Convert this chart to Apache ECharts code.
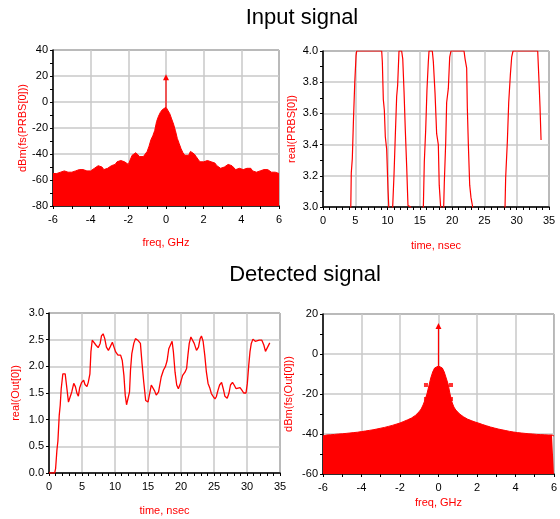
<!DOCTYPE html>
<html>
<head>
<meta charset="utf-8">
<script src="https://cdn.jsdelivr.net/npm/echarts@6/dist/echarts.min.js"></script>
<style>
  html, body { margin: 0; padding: 0; background: #fff; }
  #chart { width: 560px; height: 519px; }
</style>
</head>
<body>
<div id="chart"></div>
<script>
// frequency grid for both spectra, -6..6 GHz in 0.1 GHz steps
const freqGHz = []
for (let i = 0; i <= 120; i++) freqGHz.push(+(-6 + i * 0.1).toFixed(1))

// dBm(fs(PRBS[0])) envelope
const prbsSpec = [
  -55, -56, -55, -56, -54, -53, -53, -54, -54, -55,
  -54, -54, -53, -52, -52, -51, -52, -52, -53, -53,
  -53, -52, -51, -50, -49, -50, -50, -52, -52, -51,
  -51, -49, -48, -48, -46, -45, -45, -45, -46, -47,
  -48, -47, -41, -40, -39, -40, -42, -43, -42, -42,
  -38, -34, -29, -26, -22, -15, -11, -8, -6, -5,
  -4,
  -5, -9, -13, -17, -22, -28, -32, -36, -39, -41,
  -42, -41, -38, -38, -40, -42, -44, -46, -47, -46,
  -46, -45, -46, -46, -46, -47, -49, -50, -51, -51,
  -50, -49, -48, -48, -49, -50, -52, -52, -51, -52,
  -52, -51, -51, -50, -51, -53, -54, -54, -54, -53,
  -53, -52, -52, -52, -53, -54, -55, -54, -55, -55
]
const prbsSpike = [[0, -4], [0, 19]]

// dBm(fs(Out[0])) envelope
const outSpec = [
  -41, -40.5, -40.5, -40.5, -40.4, -40.3, -40.2, -40.1, -40, -40, -39.9,
  -39.8, -39.7, -39.6, -39.5, -39.4, -39.3, -39.2, -39.1, -39, -38.8,
  -38.7, -38.5, -38.4, -38.2, -38.1, -37.9, -37.7, -37.5, -37.3, -37.1,
  -36.9, -36.7, -36.4, -36.2, -36, -35.7, -35.4, -35.1, -34.8, -34.5,
  -34.1, -33.7, -33.3, -32.9, -32.5, -32, -31.4, -30.7, -29.8, -28.8,
  -27.5, -25.5, -23, -20, -16, -12, -9, -7, -6,
  -6,
  -6, -7, -9, -12, -15, -20, -24, -26.5, -28,
  -29, -30, -30.8, -31.4, -32, -32.5, -33, -33.3, -33.6, -34,
  -34.3, -34.6, -35, -35.3, -35.6, -35.9, -36.2, -36.5, -36.8, -37,
  -37.3, -37.5, -37.7, -37.9, -38.1, -38.3, -38.5, -38.7, -38.9, -39,
  -39.2, -39.3, -39.4, -39.5, -39.6, -39.7, -39.8, -39.9, -40, -40,
  -40.1, -40.2, -40.2, -40.3, -40.3, -40.4, -40.4, -40.5, -40.5, -40.5, -41
]
const outSpike = [[0, -6], [0, 14]]
const outSideLobes = [[-0.65, -15.5], [-0.65, -22.5], [0.65, -15.5], [0.65, -22.5]]

// real(PRBS[0]) vs time (ns); values below 3.0 run off the plot
const prbsT = [
  4.2, 4.38, 4.54, 4.72, 4.92, 5.12, 5.22,
  9.09, 9.19, 9.34, 9.5, 9.65, 9.86, 10.07, 10.3,
  10.6, 10.79, 11.0, 11.2, 11.41, 11.56, 11.77,
  12.18, 12.35, 12.55, 12.75, 12.96, 13.16, 13.58, 13.8,
  15.3, 15.54, 15.69, 15.9, 16.1, 16.31, 16.42,
  16.93, 17.09, 17.35, 17.6, 17.86, 18.0, 18.22, 18.4,
  18.55, 18.69, 18.79, 19.0, 19.15, 19.41, 19.62, 19.82,
  21.84, 22.0, 22.25, 22.35, 22.51, 22.72, 22.92, 23.18, 23.4,
  28.0, 28.19, 28.29, 28.55, 28.76, 29.02, 29.22, 29.43,
  33.25, 33.46, 33.61, 33.77
]
const prbsV = [
  2.7, 3.22, 3.31, 3.56, 3.80, 3.97, 4.0,
  4.0, 3.93, 3.69, 3.62, 3.45, 3.37, 3.11, 2.9,
  2.75, 3.0, 3.21, 3.46, 3.71, 3.78, 4.0,
  4.0, 3.95, 3.74, 3.49, 3.26, 3.01, 3.0, 2.8,
  2.8, 3.0, 3.29, 3.49, 3.75, 3.93, 4.0,
  4.0, 3.93, 3.73, 3.47, 3.40, 3.14, 3.0, 2.85,
  2.85, 3.0, 3.16, 3.41, 3.67, 3.76, 3.96, 4.0,
  4.0, 3.95, 3.89, 3.64, 3.40, 3.14, 3.06, 3.0, 2.8,
  2.8, 3.0, 3.19, 3.42, 3.67, 3.85, 3.96, 4.0,
  4.0, 3.80, 3.64, 3.43
]

// real(Out[0]) vs time (ns)
const outT = [
  0, 0.86, 1.0, 1.2, 1.35, 1.55, 1.7, 1.85, 2.1, 2.45, 2.65, 2.95, 3.25, 3.45, 3.75,
  4.0, 4.25, 4.45, 4.65, 4.95, 5.25, 5.45, 5.75, 5.95, 6.2, 6.35, 6.55, 6.85, 7.1,
  7.45, 7.75, 7.95, 8.2, 8.45, 8.7, 9.0, 9.25, 9.6, 9.85, 10.1, 10.45, 10.85, 11.1,
  11.35, 11.55, 11.75, 12.05, 12.2, 12.35, 12.55, 12.85, 13.1, 13.45, 13.85, 14.1,
  14.35, 14.65, 15.0, 15.25, 15.5, 15.75, 16.0, 16.25, 16.6, 17.0, 17.35, 17.65,
  17.9, 18.15, 18.4, 18.65, 18.85, 19.1, 19.35, 19.6, 19.9, 20.25, 20.6, 20.85,
  21.05, 21.25, 21.5, 21.75, 22.0, 22.35, 22.65, 22.9, 23.1, 23.35, 23.6, 23.85,
  24.1, 24.35, 24.6, 24.9, 25.15, 25.35, 25.6, 25.85, 26.15, 26.4, 26.65, 27.0,
  27.25, 27.5, 27.8, 28.05, 28.35, 28.65, 28.95, 29.25, 29.5, 29.85, 30.05, 30.25,
  30.45, 30.65, 30.9, 31.25, 31.55, 31.85, 32.25, 32.55, 32.8, 33.1, 33.45
]
const outV = [
  0, 0, 0.08, 0.43, 0.6, 1.08, 1.27, 1.58, 1.86, 1.86, 1.65, 1.33, 1.34, 1.52, 1.68,
  1.62, 1.49, 1.44, 1.6, 1.70, 1.74, 1.66, 1.62, 1.70, 1.86, 2.27, 2.49, 2.52, 2.40,
  2.35, 2.43, 2.57, 2.61, 2.52, 2.36, 2.30, 2.36, 2.45, 2.36, 2.27, 2.21, 2.21, 2.11,
  1.83, 1.46, 1.28, 1.28, 1.52, 1.93, 2.24, 2.43, 2.52, 2.49, 2.43, 2.05,
  1.71, 1.36, 1.33, 1.49, 1.65, 1.68, 1.54, 1.46, 1.52, 1.80, 1.93, 2.0,
  2.11, 2.33, 2.40, 2.47, 2.27, 1.89, 1.65, 1.58, 1.68, 1.83, 1.89, 1.96,
  2.21, 2.43, 2.55, 2.57, 2.43, 2.30, 2.36, 2.52, 2.57, 2.47, 2.21, 1.89,
  1.68, 1.60, 1.49, 1.43, 1.39, 1.43, 1.55, 1.65, 1.70, 1.58, 1.44, 1.40,
  1.49, 1.65, 1.70, 1.65, 1.58, 1.55, 1.60, 1.55, 1.50, 1.50, 1.68, 2.0,
  2.27, 2.43, 2.51, 2.47, 2.45, 2.49, 2.49, 2.40, 2.28, 2.30, 2.44
]

const FONT = 'Liberation Sans, Arial, sans-serif'
const RED = '#ff0000'
const zip = (a, b) => a.map((v, i) => [v, b[i]])

const chart = echarts.init(document.getElementById('chart'), null, { renderer: 'canvas' })

const xAxisBase = (min, max, interval, minor, name, gap) => ({
  type: 'value', min, max, interval,
  name, nameLocation: 'middle', nameGap: gap,
  nameTextStyle: { color: RED, fontFamily: FONT, fontSize: 11 },
  axisLine: { show: true, onZero: false, lineStyle: { color: '#000', width: 1.5 } },
  axisTick: { show: true, length: 3, lineStyle: { color: '#000' } },
  minorTick: { show: true, splitNumber: minor, length: 3, lineStyle: { color: '#000' } },
  axisLabel: { color: '#000', fontFamily: FONT, fontSize: 11, margin: 8 },
  splitLine: { show: true, lineStyle: { color: '#c8c8c8', width: 1.5 } }
})
const yAxisBase = (min, max, interval, minor, name, gap, digits) => ({
  type: 'value', min, max, interval,
  name, nameLocation: 'middle', nameGap: gap,
  nameTextStyle: { color: RED, fontFamily: FONT, fontSize: 11 },
  axisLine: { show: true, onZero: false, lineStyle: { color: '#000', width: 1.5 } },
  axisTick: { show: true, length: 3, lineStyle: { color: '#000' } },
  minorTick: { show: minor > 1, splitNumber: minor, length: 3, lineStyle: { color: '#000' } },
  axisLabel: { color: '#000', fontFamily: FONT, fontSize: 11, margin: 5,
    formatter: v => v.toFixed(digits) },
  splitLine: { show: true, lineStyle: { color: '#c8c8c8', width: 1.5 } }
})

const gridBase = { show: true, borderColor: '#222', borderWidth: 1, containLabel: false }

const option = {
  animation: false,
  backgroundColor: '#fff',
  graphic: [
    { type: 'text', x: 302, y: 18, style: { text: 'Input signal', fill: '#000',
      font: '22px ' + FONT, textAlign: 'center', textVerticalAlign: 'middle' } },
    { type: 'text', x: 305, y: 275, style: { text: 'Detected signal', fill: '#000',
      font: '22px ' + FONT, textAlign: 'center', textVerticalAlign: 'middle' } }
  ],
  grid: [
    Object.assign({ left: 53, top: 50, width: 226, height: 156 }, gridBase),
    Object.assign({ left: 323, top: 51, width: 226, height: 156 }, gridBase),
    Object.assign({ left: 49, top: 313, width: 231, height: 160 }, gridBase),
    Object.assign({ left: 323, top: 314, width: 233, height: 160 }, gridBase)
  ],
  xAxis: [
    Object.assign(xAxisBase(-6, 6, 2, 2, 'freq, GHz', 31), { gridIndex: 0 }),
    Object.assign(xAxisBase(0, 35, 5, 5, 'time, nsec', 33), { gridIndex: 1 }),
    Object.assign(xAxisBase(0, 35, 5, 5, 'time, nsec', 32), { gridIndex: 2 }),
    Object.assign(xAxisBase(-6, 6, 2, 2, 'freq, GHz', 23), { gridIndex: 3 })
  ],
  yAxis: [
    Object.assign(yAxisBase(-80, 40, 20, 2, 'dBm(fs(PRBS[0]))', 25, 0), { gridIndex: 0 }),
    Object.assign(yAxisBase(3.0, 4.0, 0.2, 2, 'real(PRBS[0])', 26, 1), { gridIndex: 1 }),
    Object.assign(yAxisBase(0, 3, 0.5, 1, 'real(Out[0])', 28, 1), { gridIndex: 2 }),
    Object.assign(yAxisBase(-60, 20, 20, 2, 'dBm(fs(Out[0]))', 29, 0), { gridIndex: 3 })
  ],
  series: [
    {
      type: 'line', xAxisIndex: 0, yAxisIndex: 0, data: zip(freqGHz, prbsSpec),
      symbol: 'none', lineStyle: { color: RED, width: 1 },
      areaStyle: { color: RED, opacity: 1, origin: 'start' }
    },
    {
      type: 'line', xAxisIndex: 0, yAxisIndex: 0,
      data: [{ value: prbsSpike[0], symbol: 'none' }, { value: prbsSpike[1], symbol: 'triangle' }],
      symbolSize: 6, itemStyle: { color: RED }, lineStyle: { color: RED, width: 1.2 }
    },
    {
      type: 'line', xAxisIndex: 1, yAxisIndex: 1, data: zip(prbsT, prbsV),
      symbol: 'none', clip: true, lineStyle: { color: RED, width: 1.2 }
    },
    {
      type: 'line', xAxisIndex: 2, yAxisIndex: 2, data: zip(outT, outV),
      symbol: 'none', lineStyle: { color: RED, width: 1.3 }
    },
    {
      type: 'line', xAxisIndex: 3, yAxisIndex: 3, data: zip(freqGHz, outSpec),
      symbol: 'none', lineStyle: { color: RED, width: 1 },
      areaStyle: { color: RED, opacity: 1, origin: 'start' }
    },
    {
      type: 'line', xAxisIndex: 3, yAxisIndex: 3,
      data: [{ value: outSpike[0], symbol: 'none' }, { value: outSpike[1], symbol: 'triangle' }],
      symbolSize: 6, itemStyle: { color: RED }, lineStyle: { color: RED, width: 1.2 }
    },
    {
      type: 'scatter', xAxisIndex: 3, yAxisIndex: 3, data: outSideLobes,
      symbol: 'rect', symbolSize: 4, itemStyle: { color: RED }
    }
  ]
}
chart.setOption(option)
</script>
</body>
</html>
